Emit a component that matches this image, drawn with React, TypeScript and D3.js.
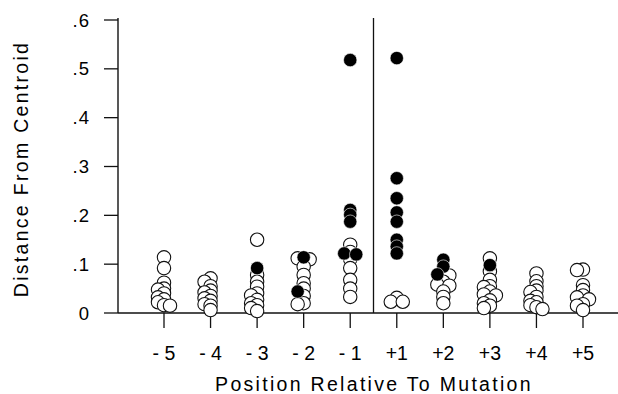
// @ts-nocheck
import { useEffect, useRef } from "react"
import * as d3 from "d3"

const positions = ["- 5", "- 4", "- 3", "- 2", "- 1", "+1", "+2", "+3", "+4", "+5"]

// distance from centroid, open circles (one list per position)
const openPoints = [
  [0.114, 0.092, 0.062, 0.05, 0.048, 0.04, 0.032, 0.028, 0.022, 0.016, 0.015],
  [0.071, 0.064, 0.055, 0.046, 0.042, 0.035, 0.03, 0.025, 0.018, 0.015, 0.006],
  [0.15, 0.078, 0.064, 0.054, 0.04, 0.036, 0.027, 0.02, 0.016, 0.01, 0.004],
  [0.112, 0.11, 0.095, 0.078, 0.061, 0.05, 0.035, 0.02, 0.018],
  [0.14, 0.125, 0.11, 0.092, 0.068, 0.05, 0.033],
  [0.031, 0.023, 0.023],
  [0.082, 0.077, 0.064, 0.058, 0.056, 0.044, 0.033, 0.02],
  [0.112, 0.085, 0.068, 0.055, 0.053, 0.044, 0.038, 0.036, 0.026, 0.02, 0.015, 0.01],
  [0.081, 0.065, 0.055, 0.046, 0.043, 0.033, 0.025, 0.022, 0.016, 0.012, 0.008],
  [0.089, 0.088, 0.057, 0.047, 0.036, 0.032, 0.028, 0.018, 0.015, 0.006],
]

// filled circles
const filledPoints = [
  [],
  [],
  [0.092],
  [0.114, 0.044],
  [0.518, 0.211, 0.201, 0.187, 0.122, 0.12],
  [0.522, 0.276, 0.235, 0.206, 0.187, 0.15, 0.136, 0.122],
  [0.109, 0.095, 0.079],
  [0.098],
  [],
  [],
]

const yTicks = [0, 0.1, 0.2, 0.3, 0.4, 0.5, 0.6]

export default function App() {
  const ref = useRef(null)

  useEffect(() => {
    const width = 618
    const height = 394
    const svg = d3.select(ref.current)
    svg.selectAll("*").remove()

    const x = d3.scalePoint().domain(positions).range([164, 583])
    const y = d3.scaleLinear().domain([0, 0.6]).range([313, 20])
    const font = "Liberation Sans, Arial, Helvetica, sans-serif"

    // simple dodge so overlapping circles spread sideways
    const placed = []
    positions.forEach((p, i) => {
      const pts = [
        ...openPoints[i].map((v) => ({ v, filled: false })),
        ...filledPoints[i].map((v) => ({ v, filled: true })),
      ].sort((a, b) => b.v - a.v)
      const here = []
      pts.forEach((d) => {
        const cy = y(d.v)
        let off = 0
        for (const o of [0, -6, 6]) {
          const hit = here.some((q) => q.off === o && Math.abs(q.cy - cy) < 4)
          if (!hit) {
            off = o
            break
          }
        }
        const item = { ...d, cx: x(p) + off, cy, off }
        here.push(item)
        placed.push(item)
      })
    })

    // axes
    svg.append("line").attr("x1", 118).attr("x2", 118).attr("y1", 18).attr("y2", y(0))
      .attr("stroke", "#111").attr("stroke-width", 1.4)
    svg.append("line").attr("x1", 118).attr("x2", width).attr("y1", y(0)).attr("y2", y(0))
      .attr("stroke", "#111").attr("stroke-width", 1.4)

    const divX = (x(positions[4]) + x(positions[5])) / 2
    svg.append("line").attr("x1", divX).attr("x2", divX).attr("y1", 18).attr("y2", y(0))
      .attr("stroke", "#111").attr("stroke-width", 1.3)

    const yt = svg.append("g")
    yt.selectAll("line").data(yTicks).join("line")
      .attr("x1", 104).attr("x2", 118)
      .attr("y1", (d) => y(d)).attr("y2", (d) => y(d))
      .attr("stroke", "#111").attr("stroke-width", 1.3)
    yt.selectAll("text").data(yTicks).join("text")
      .attr("x", 90).attr("y", (d) => y(d)).attr("dy", "0.36em")
      .attr("text-anchor", "end")
      .style("font-family", font).style("font-size", "18.5px")
      .style("letter-spacing", "1px")
      .text((d) => (d === 0 ? "0" : d3.format(".1f")(d).replace(/^0/, "")))

    const xt = svg.append("g")
    xt.selectAll("line").data(positions).join("line")
      .attr("x1", (d) => x(d)).attr("x2", (d) => x(d))
      .attr("y1", y(0)).attr("y2", 328)
      .attr("stroke", "#111").attr("stroke-width", 1.3)
    xt.selectAll("text").data(positions).join("text")
      .attr("x", (d) => x(d)).attr("y", 360)
      .attr("text-anchor", "middle")
      .style("font-family", font).style("font-size", "19.5px")
      .style("white-space", "pre")
      .text((d) => d)

    svg.append("text")
      .attr("x", 374).attr("y", 391)
      .attr("text-anchor", "middle")
      .style("font-family", font).style("font-size", "19.5px")
      .style("letter-spacing", "2.3px")
      .text("Position Relative To Mutation")

    svg.append("text")
      .attr("transform", "translate(28,169) rotate(-90)")
      .attr("text-anchor", "middle")
      .style("font-family", font).style("font-size", "19.5px")
      .style("letter-spacing", "2.3px")
      .text("Distance From Centroid")

    // points: open first, filled on top
    svg.append("g").selectAll("circle")
      .data(placed.filter((d) => !d.filled)).join("circle")
      .attr("cx", (d) => d.cx).attr("cy", (d) => d.cy).attr("r", 6.7)
      .attr("fill", "#fff").attr("stroke", "#111").attr("stroke-width", 1.1)
    svg.append("g").selectAll("circle")
      .data(placed.filter((d) => d.filled)).join("circle")
      .attr("cx", (d) => d.cx).attr("cy", (d) => d.cy).attr("r", 6.7)
      .attr("fill", "#000").attr("stroke", "#fff").attr("stroke-width", 0.6)

    svg.attr("width", width).attr("height", height)
  }, [])

  return (
    <svg
      ref={ref}
      width={618}
      height={394}
      style={{ position: "absolute", left: 0, top: 0, background: "#fff" }}
    />
  )
}
